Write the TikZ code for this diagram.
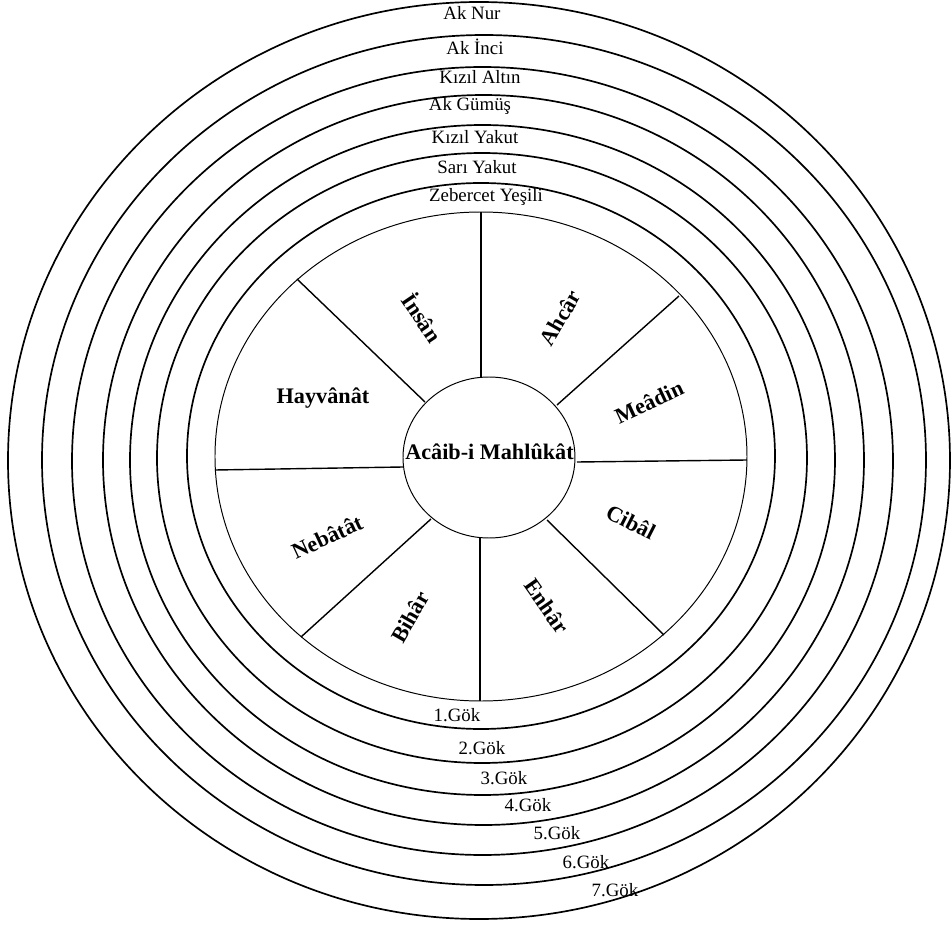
\documentclass[tikz,border=0pt]{standalone}
\usepackage{fontspec}
\setmainfont{Liberation Serif}
\usepackage{tikz}
\usetikzlibrary{positioning}

\tikzset{
  ring/.style={line width=1.2pt},
  wheel/.style={line width=0.7pt},
  spoke/.style={line width=1pt},
  sector/.style={font=\fontsize{15.8}{18}\selectfont\bfseries},
  band/.style={font=\fontsize{13.4}{15}\selectfont}
}

\begin{document}
\begin{tikzpicture}

\useasboundingbox (-12, -11.775) rectangle (11.8, 11.425);

% Draw the seven heavens
\draw[ring] (-0.025, -0.0875) ellipse [x radius=11.775, y radius=11.4625];
\draw[ring] (0.1, -0.075) ellipse [x radius=11.05, y radius=10.625];
\draw[ring] (0.0625, -0.1) ellipse [x radius=10.2625, y radius=9.85];
\draw[ring] (0.0875, -0.075) ellipse [x radius=9.5125, y radius=9.125];
\draw[ring] (0.0625, -0.075) ellipse [x radius=8.8125, y radius=8.375];
\draw[ring] (0.05, -0.025) ellipse [x radius=8.125, y radius=7.625];
\draw[ring] (0.025, 0.025) ellipse [x radius=7.35, y radius=6.825];

% Wheel and hub
\draw[wheel] (0.025, 0.0125) ellipse [x radius=6.65, y radius=6.1125];
\draw[wheel] (0.225, -0.0125) ellipse [x radius=2.15, y radius=2.0125];

% Spokes
\draw[spoke] (0.025, 6.125) -- (0.025, 2.0);
\draw[spoke] (4.975, 4.025) -- (1.925, 1.3);
\draw[spoke] (6.675, -0.075) -- (2.425, -0.125);
\draw[spoke] (4.6, -4.45) -- (1.675, -1.575);
\draw[spoke] (0, -6.1) -- (0, -2.025);
\draw[spoke] (-4.475, -4.5) -- (-1.225, -1.55);
\draw[spoke] (-6.625, -0.325) -- (-1.925, -0.25);
\draw[spoke] (-4.575, 4.45) -- (-1.375, 1.375);

\node[sector] (mahlukat) at (0.2375, 0.125) {Acâib-i Mahlûkât};

\node[sector, rotate=-56] (insan) at (-1.425, 3.5) {İnsân};
\node[sector, rotate=60] (ahcar) at (2.0, 3.475) {Ahcâr};
\node[sector, rotate=25] (meadin) at (4.225, 1.375) {Meâdin};
\node[sector] (hayvanat) at (-3.925, 1.475) {Hayvânât};
\node[sector, rotate=25] (nebatat) at (-3.825, -2.0) {Nebâtât};
\node[sector, rotate=60] (bihar) at (-1.75, -4.0) {Bihâr};
\node[sector, rotate=-55] (enhar) at (1.675, -3.725) {Enhâr};
\node[sector, rotate=-27] (cibal) at (3.775, -1.625) {Cibâl};

% Colours of the heavens
\node[band] (aknur) at (-0.2, 11.1) {Ak Nur};
\node[band] (akinci) at (-0.125, 10.25) {Ak İnci};
\node[band] (kizilaltin) at (0, 9.5) {Kızıl Altın};
\node[band] (akgumus) at (-0.25, 8.775) {Ak Gümüş};
\node[band] (kizilyakut) at (-0.125, 8.0) {Kızıl Yakut};
\node[band] (sariyakut) at (-0.075, 7.25) {Sarı Yakut};
\node[band] (zebercet) at (0.15, 6.5) {Zebercet Yeşili};

% Numbers of the heavens
\node[band] (gok1) at (-0.575, -6.45) {1.Gök};
\node[band] (gok2) at (0.05, -7.275) {2.Gök};
\node[band] (gok3) at (0.6, -8.025) {3.Gök};
\node[band] (gok4) at (1.2, -8.7) {4.Gök};
\node[band] (gok5) at (1.925, -9.4) {5.Gök};
\node[band] (gok6) at (2.65, -10.125) {6.Gök};
\node[band] (gok7) at (3.375, -10.825) {7.Gök};

\end{tikzpicture}
\end{document}
